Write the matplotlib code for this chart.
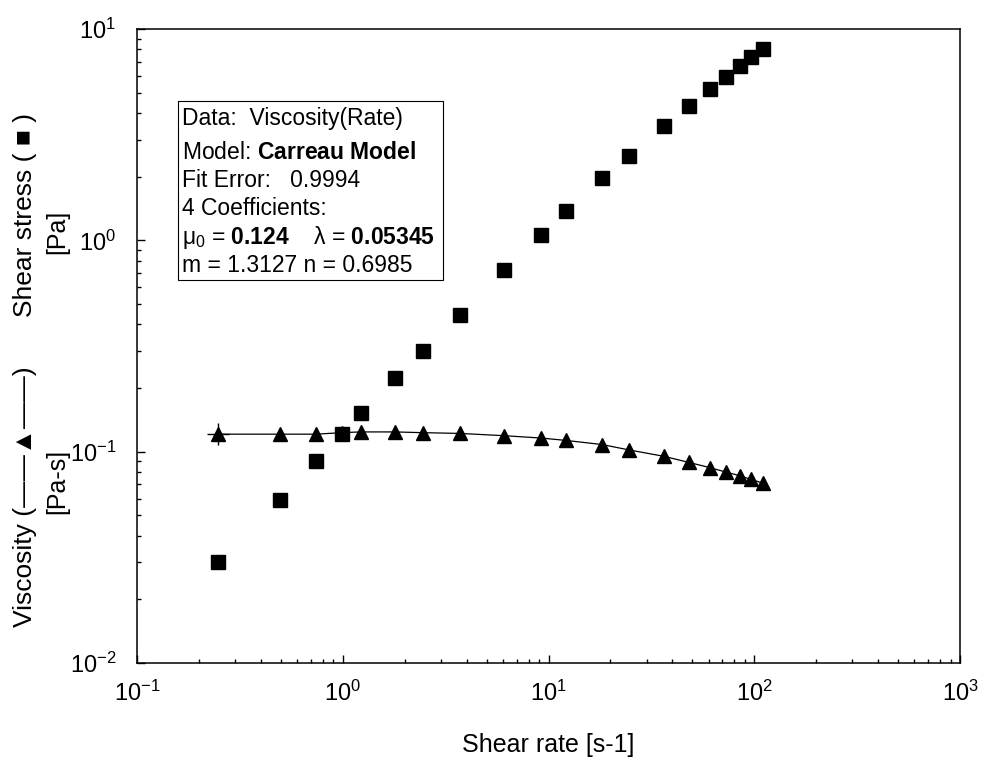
import matplotlib
matplotlib.use("Agg")
import matplotlib.pyplot as plt
from matplotlib.patches import Rectangle
from matplotlib.ticker import LogLocator, NullFormatter

plt.rcParams["font.family"] = ["Liberation Sans", "DejaVu Sans"]
plt.rcParams["mathtext.fontset"] = "custom"
plt.rcParams["mathtext.rm"] = "Liberation Sans"
plt.rcParams["mathtext.it"] = "Liberation Sans"
plt.rcParams["mathtext.bf"] = "Liberation Sans:bold"

# Measured flow curve
shear_rate = [0.247, 0.494, 0.74, 0.99, 1.22, 1.79, 2.45, 3.70, 6.1, 9.2,
              12.2, 18.3, 24.5, 36.5, 48, 61, 73, 85, 96, 110]
viscosity = [0.121, 0.121, 0.121, 0.123, 0.124, 0.124, 0.123, 0.122, 0.119, 0.116,
             0.113, 0.108, 0.102, 0.095, 0.089, 0.084, 0.080, 0.077, 0.074, 0.071]
shear_stress = [0.030, 0.059, 0.090, 0.121, 0.152, 0.222, 0.301, 0.444, 0.724, 1.06,
                1.37, 1.97, 2.51, 3.49, 4.32, 5.19, 5.95, 6.69, 7.40, 8.02]

fit_lines = [
    "Data:  Viscosity(Rate)",
    r"Model: $\mathbf{Carreau\ Model}$",
    "Fit Error:   0.9994",
    "4 Coefficients:",
    r"$\mu_0$ = $\mathbf{0.124}$    $\lambda$ = $\mathbf{0.05345}$",
    "m = 1.3127 n = 0.6985",
]

fig = plt.figure(figsize=(9.84, 7.6), dpi=100)
ax = fig.add_axes([137 / 984, 1 - 663 / 760, 823 / 984, 634 / 760])

ax.plot(shear_rate, viscosity, "-", color="black", lw=0.9, zorder=2)
ax.plot(shear_rate[:1], viscosity[:1], "+", color="black", ms=16, mew=1.0, zorder=2)
ax.plot(shear_rate, viscosity, "^", color="black", ms=10, zorder=3)
ax.plot(shear_rate, shear_stress, "s", color="black", ms=9.5, zorder=3)

ax.set_xscale("log")
ax.set_yscale("log")
ax.set_xlim(0.1, 1000)
ax.set_ylim(0.01, 10)

for axis in (ax.xaxis, ax.yaxis):
    axis.set_major_locator(LogLocator(base=10, numticks=10))
    axis.set_minor_locator(LogLocator(base=10, subs=range(2, 10), numticks=10))
    axis.set_minor_formatter(NullFormatter())

ax.tick_params(which="both", direction="in", top=False, right=False, width=1.0)
ax.tick_params(which="major", length=6, labelsize=17)
ax.tick_params(which="minor", length=3)
ax.tick_params(axis="x", which="major", pad=13)
ax.tick_params(axis="y", which="major", pad=15)
for sp in ax.spines.values():
    sp.set_linewidth(1.1)

# Fit summary box
ax.add_patch(Rectangle((0.0498, 0.604), 0.3220, 0.2824, transform=ax.transAxes,
                       fill=False, lw=0.8, ec="black", zorder=4))
baselines = [125, 159, 187, 215, 244, 272]
for txt, py in zip(fit_lines, baselines):
    ax.text(0.0547, 1 - (py - 29) / 634, txt, transform=ax.transAxes,
            ha="left", va="baseline", fontsize=16.5, zorder=5)

# Axis titles
fig.text(548.5 / 984, 1 - 752 / 760, "Shear rate [s-1]", ha="center",
         va="baseline", fontsize=18)
fig.text(25 / 984, 1 - 215 / 760, "Shear stress ( \u25a0 )", rotation=90,
         ha="center", va="center", fontsize=19)
fig.text(57 / 984, 1 - 232 / 760, "[Pa]", rotation=90,
         ha="center", va="center", fontsize=18)
fig.text(25 / 984, 1 - 497 / 760, "Viscosity (\u2014\u2014\u25b2\u2014\u2014)",
         rotation=90, ha="center", va="center", fontsize=19)
fig.text(57 / 984, 1 - 481 / 760, "[Pa-s]", rotation=90,
         ha="center", va="center", fontsize=18)

fig.savefig("out.png", dpi=100)
